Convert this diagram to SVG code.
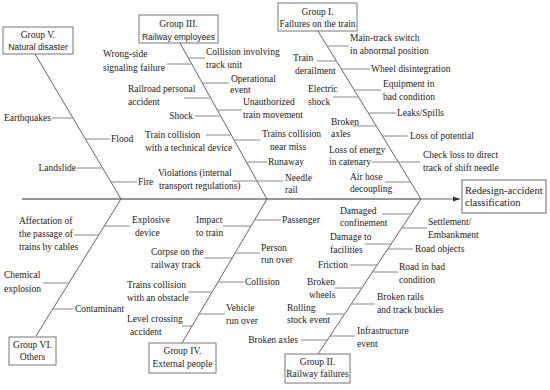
<svg xmlns="http://www.w3.org/2000/svg" width="550" height="390" viewBox="0 0 550 390">
<defs>
<style>
.t{font-family:"Liberation Serif","Times New Roman",serif;font-size:9.5px;fill:#1a1a1a}
.s{font-family:"Liberation Sans",Arial,sans-serif;font-size:8.5px;fill:#1a1a1a}
.r{font-family:"Liberation Serif","Times New Roman",serif;font-size:10.5px;fill:#1a1a1a}
.box{fill:#fff;stroke:#777;stroke-width:1}
.spine{stroke:#999;stroke-width:2;fill:none}
.bone{stroke:#555;stroke-width:0.9;fill:none}
.br{stroke:#888;stroke-width:1;fill:none}
</style>
<marker id="arr" markerWidth="8" markerHeight="8" refX="7" refY="4" orient="auto" markerUnits="userSpaceOnUse">
<path d="M0,1.5 L7,4 L0,6.5 Z" fill="#333"/>
</marker>
</defs>
<rect width="550" height="390" fill="#fff"/>
<g id="connectors">
<line class="spine" x1="22" y1="199" x2="421" y2="199"/>
<line class="bone" x1="421" y1="199" x2="460" y2="199" marker-end="url(#arr)"/>
<polyline class="bone" points="35,54 121,199 36,336"/>
<polyline class="bone" points="180,43 267,199 182,343"/>
<polyline class="bone" points="318,31 421,199 318,354"/>
<g class="br">
<line x1="52" y1="118" x2="73" y2="118"/>
<line x1="85" y1="139" x2="110" y2="139"/>
<line x1="77" y1="168" x2="102.6" y2="168"/>
<line x1="111" y1="182" x2="137" y2="182"/>
<line x1="167" y1="64" x2="191.7" y2="64"/>
<line x1="188.4" y1="58" x2="205" y2="58"/>
<line x1="202.3" y1="83" x2="229" y2="83"/>
<line x1="184" y1="98" x2="210.7" y2="98"/>
<line x1="217.4" y1="110" x2="242" y2="110"/>
<line x1="195" y1="116" x2="220.7" y2="116"/>
<line x1="206" y1="135" x2="231.3" y2="135"/>
<line x1="234.1" y1="140" x2="260" y2="140"/>
<line x1="246.4" y1="162" x2="267" y2="162"/>
<line x1="232" y1="181" x2="257" y2="181"/>
<line x1="257" y1="181" x2="283" y2="181"/>
<line x1="327.2" y1="46" x2="349" y2="46"/>
<line x1="317" y1="61" x2="336.4" y2="61"/>
<line x1="341.3" y1="69" x2="370" y2="69"/>
<line x1="354.2" y1="90" x2="381" y2="90"/>
<line x1="333" y1="97" x2="358.5" y2="97"/>
<line x1="368.3" y1="113" x2="396" y2="113"/>
<line x1="353" y1="126" x2="376.2" y2="126"/>
<line x1="382.4" y1="136" x2="408" y2="136"/>
<line x1="372" y1="162" x2="398.3" y2="162"/>
<line x1="398.3" y1="162" x2="420" y2="162"/>
<line x1="385" y1="182" x2="410.6" y2="182"/>
<line x1="382" y1="214" x2="411" y2="214"/>
<line x1="401.7" y1="228" x2="427" y2="228"/>
<line x1="365" y1="244" x2="391" y2="244"/>
<line x1="387.8" y1="249" x2="413" y2="249"/>
<line x1="350" y1="265" x2="377.1" y2="265"/>
<line x1="372.5" y1="272" x2="398" y2="272"/>
<line x1="335" y1="288" x2="361.8" y2="288"/>
<line x1="351.2" y1="304" x2="375" y2="304"/>
<line x1="326" y1="314" x2="344.5" y2="314"/>
<line x1="329.9" y1="336" x2="355" y2="336"/>
<line x1="301" y1="340" x2="327.2" y2="340"/>
<line x1="254.6" y1="220" x2="281" y2="220"/>
<line x1="223" y1="226" x2="251.1" y2="226"/>
<line x1="204" y1="258" x2="232.2" y2="258"/>
<line x1="235.1" y1="253" x2="260" y2="253"/>
<line x1="218" y1="282" x2="244" y2="282"/>
<line x1="188" y1="292" x2="212.1" y2="292"/>
<line x1="199.2" y1="314" x2="225" y2="314"/>
<line x1="182" y1="326" x2="192" y2="326"/>
<line x1="104.3" y1="226" x2="130" y2="226"/>
<line x1="74" y1="235" x2="98.7" y2="235"/>
<line x1="43" y1="283" x2="68.9" y2="283"/>
<line x1="52.8" y1="309" x2="73" y2="309"/>
</g>
</g>
<g id="result">
<rect x="462" y="180" width="84" height="33" fill="#fff" stroke="#666" stroke-width="1"/>
<text class="r" x="465" y="193.5">Redesign-accident</text>
<text class="r" x="465" y="206">classification</text>
</g>
<g id="group5">
<rect class="box" x="3" y="27" width="70" height="27"/>
<text class="t" x="38" y="38.3" text-anchor="middle">Group V.</text>
<text class="s" x="38" y="50" text-anchor="middle">Natural disaster</text>
</g>
<g id="group3">
<rect class="box" x="139" y="15" width="79" height="28"/>
<text class="t" x="178.5" y="27.3" text-anchor="middle">Group III.</text>
<text class="s" x="178.5" y="40" text-anchor="middle">Railway employees</text>
</g>
<g id="group1">
<rect class="box" x="278" y="3" width="79" height="28"/>
<text class="t" x="317.5" y="15.3" text-anchor="middle">Group I.</text>
<text class="t" x="317.5" y="27.3" text-anchor="middle">Failures on the train</text>
</g>
<g id="group6">
<rect class="box" x="9" y="337" width="47" height="28"/>
<text class="t" x="32.5" y="348.3" text-anchor="middle">Group VI.</text>
<text class="t" x="32.5" y="360.3" text-anchor="middle">Others</text>
</g>
<g id="group4">
<rect class="box" x="149" y="343" width="67" height="30"/>
<text class="t" x="182.5" y="354.3" text-anchor="middle">Group IV.</text>
<text class="t" x="182.5" y="367.3" text-anchor="middle">External people</text>
</g>
<g id="group2">
<rect class="box" x="285" y="354" width="65" height="29"/>
<text class="t" x="317.5" y="365.3" text-anchor="middle">Group II.</text>
<text class="t" x="317.5" y="377.3" text-anchor="middle">Railway failures</text>
</g>
<g id="labels5">
<text class="t" x="51" y="121.3" text-anchor="end">Earthquakes</text>
<text class="t" x="111" y="142.3">Flood</text>
<text class="t" x="76" y="171.3" text-anchor="end">Landslide</text>
<text class="t" x="138" y="185.3">Fire</text>
</g>
<g id="labels3">
<text class="t" x="103" y="57.3">Wrong-side</text>
<text class="t" x="103" y="71.3">signaling failure</text>
<text class="t" x="206" y="55.3">Collision involving</text>
<text class="t" x="206" y="68.3">track unit</text>
<text class="t" x="231" y="82.3">Operational</text>
<text class="t" x="230" y="93.3">event</text>
<text class="t" x="128" y="92.3">Railroad personal</text>
<text class="t" x="128" y="105.3">accident</text>
<text class="t" x="243" y="105.3">Unauthorized</text>
<text class="t" x="243" y="118.3">train movement</text>
<text class="t" x="193" y="119.3" text-anchor="end">Shock</text>
<text class="t" x="145" y="138.3">Train collision</text>
<text class="t" x="145" y="151.3">with a technical device</text>
<text class="t" x="262" y="137.3">Trains collision</text>
<text class="t" x="270" y="150.3">near miss</text>
<text class="t" x="268" y="165.3">Runaway</text>
<text class="t" x="158" y="176.3">Violations (internal</text>
<text class="t" x="159" y="189.3">transport regulations)</text>
<text class="t" x="285" y="181.3">Needle</text>
<text class="t" x="285" y="193.3">rail</text>
</g>
<g id="labels1">
<text class="t" x="350" y="41.3">Main-track switch</text>
<text class="t" x="350" y="54.3">in abnormal position</text>
<text class="t" x="293" y="61.3">Train</text>
<text class="t" x="295" y="74.3">derailment</text>
<text class="t" x="371" y="72.3">Wheel disintegration</text>
<text class="t" x="383" y="87.3">Equipment in</text>
<text class="t" x="383" y="100.3">bad condition</text>
<text class="t" x="308" y="92.3">Electric</text>
<text class="t" x="308" y="105.3">shock</text>
<text class="t" x="397" y="116.3">Leaks/Spills</text>
<text class="t" x="331" y="125.3">Broken</text>
<text class="t" x="331" y="137.3">axles</text>
<text class="t" x="410" y="139.3">Loss of potential</text>
<text class="t" x="329" y="153.3">Loss of energy</text>
<text class="t" x="329" y="165.3">in catenary</text>
<text class="t" x="423" y="158.3">Check loss to direct</text>
<text class="t" x="423" y="171.3">track of shift needle</text>
<text class="t" x="350" y="180.3">Air hose</text>
<text class="t" x="350" y="192.3">decoupling</text>
</g>
<g id="labels2">
<text class="t" x="340" y="214.3">Damaged</text>
<text class="t" x="340" y="226.3">confinement</text>
<text class="t" x="428" y="225.3">Settlement/</text>
<text class="t" x="428" y="238.3">Embankment</text>
<text class="t" x="330" y="240.3">Damage to</text>
<text class="t" x="330" y="253.3">facilities</text>
<text class="t" x="415" y="252.3">Road objects</text>
<text class="t" x="348" y="268.3" text-anchor="end">Friction</text>
<text class="t" x="399" y="270.3">Road in bad</text>
<text class="t" x="399" y="283.3">condition</text>
<text class="t" x="307" y="285.3">Broken</text>
<text class="t" x="309" y="298.3">wheels</text>
<text class="t" x="377" y="300.3">Broken rails</text>
<text class="t" x="377" y="313.3">and track buckles</text>
<text class="t" x="287" y="311.3">Rolling</text>
<text class="t" x="287" y="323.3">stock event</text>
<text class="t" x="357" y="334.3">Infrastructure</text>
<text class="t" x="357" y="347.3">event</text>
<text class="t" x="298" y="343.3" text-anchor="end">Broken axles</text>
</g>
<g id="labels4">
<text class="t" x="282" y="223.3">Passenger</text>
<text class="t" x="196" y="223.3">Impact</text>
<text class="t" x="196" y="236.3">to train</text>
<text class="t" x="151" y="255.3">Corpse on the</text>
<text class="t" x="151" y="268.3">railway track</text>
<text class="t" x="261" y="251.3">Person</text>
<text class="t" x="261" y="263.3">run over</text>
<text class="t" x="245" y="285.3">Collision</text>
<text class="t" x="127" y="288.3">Trains collision</text>
<text class="t" x="127" y="301.3">with an obstacle</text>
<text class="t" x="226" y="311.3">Vehicle</text>
<text class="t" x="226" y="324.3">run over</text>
<text class="t" x="127" y="322.3">Level crossing</text>
<text class="t" x="130" y="335.3">accident</text>
</g>
<g id="labels6">
<text class="t" x="132" y="223.3">Explosive</text>
<text class="t" x="135" y="236.3">device</text>
<text class="t" x="19" y="224.3">Affectation of</text>
<text class="t" x="19" y="237.3">the passage of</text>
<text class="t" x="19" y="250.3">trains by cables</text>
<text class="t" x="4" y="278.3">Chemical</text>
<text class="t" x="4" y="292.3">explosion</text>
<text class="t" x="75" y="312.3">Contaminant</text>
</g>
</svg>
